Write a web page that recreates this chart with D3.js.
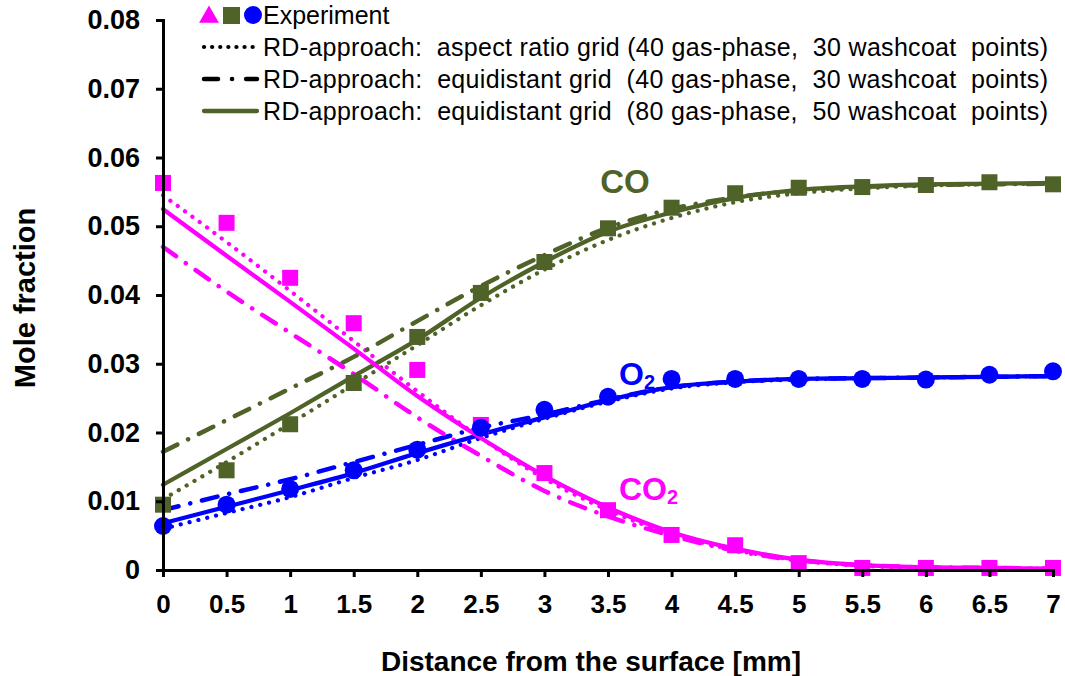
<!DOCTYPE html>
<html>
<head>
<meta charset="utf-8">
<script src="https://cdn.jsdelivr.net/npm/d3@7"></script>
<style>
  body { margin: 0; background: #fff; }
  svg { font-family: "Liberation Sans", Arial, sans-serif; }
</style>
</head>
<body>
<script>
// distance grid (mm) shared by experiment and model curves
var distance = [0, 0.5, 1, 1.5, 2, 2.5, 3, 3.5, 4, 4.5, 5, 5.5, 6, 6.5, 7];

// experiment
var expCO  = [0.0095, 0.0145, 0.0212, 0.0272, 0.0339, 0.0403, 0.0448, 0.0497, 0.0527, 0.0548, 0.0556, 0.0557, 0.0560, 0.0564, 0.0561];
var expO2  = [0.0064, 0.0095, 0.0118, 0.0145, 0.0175, 0.0207, 0.0233, 0.0252, 0.0278, 0.0278, 0.0278, 0.0278, 0.0277, 0.0284, 0.0289];
var expCO2 = [0.0563, 0.0505, 0.0425, 0.0359, 0.0291, 0.0211, 0.0141, 0.0087, 0.0051, 0.0036, 0.0010, 0.0003, 0.0003, 0.0003, 0.0003];

// RD-approach: aspect ratio grid (40/30) -> dotted
var aspCO  = [0.0103, 0.0157, 0.0213, 0.0270, 0.0327, 0.0385, 0.0437, 0.0480, 0.0512, 0.0535, 0.0548, 0.0555, 0.0559, 0.0561, 0.0562];
var aspO2  = [0.0060, 0.0083, 0.0106, 0.0134, 0.0160, 0.0192, 0.0220, 0.0245, 0.0264, 0.0273, 0.0277, 0.0279, 0.0280, 0.0281, 0.0282];
var aspCO2 = [0.0545, 0.0477, 0.0406, 0.0333, 0.0260, 0.0192, 0.0133, 0.0087, 0.0052, 0.0029, 0.0014, 0.0006, 0.0003, 0.0002, 0.0002];

// RD-approach: equidistant grid (40/30) -> dash-dot
var eq40CO  = [0.0172, 0.0218, 0.0264, 0.0310, 0.0362, 0.0413, 0.0458, 0.0498, 0.0525, 0.0542, 0.0552, 0.0557, 0.0560, 0.0561, 0.0562];
var eq40O2  = [0.0087, 0.0110, 0.0132, 0.0157, 0.0182, 0.0207, 0.0226, 0.0248, 0.0266, 0.0274, 0.0278, 0.0279, 0.0280, 0.0281, 0.0282];
var eq40CO2 = [0.0470, 0.0405, 0.0345, 0.0285, 0.0222, 0.0166, 0.0115, 0.0078, 0.0050, 0.0028, 0.0014, 0.0007, 0.0004, 0.0003, 0.0002];

// RD-approach: equidistant grid (80/50) -> solid
var eq80CO  = [0.0124, 0.0176, 0.0228, 0.0282, 0.0335, 0.0396, 0.0448, 0.0492, 0.0520, 0.0541, 0.0553, 0.0558, 0.0561, 0.0562, 0.0563];
var eq80O2  = [0.0068, 0.0092, 0.0116, 0.0141, 0.0170, 0.0197, 0.0222, 0.0247, 0.0266, 0.0274, 0.0278, 0.0279, 0.0280, 0.0281, 0.0282];
var eq80CO2 = [0.0525, 0.0457, 0.0390, 0.0322, 0.0253, 0.0192, 0.0137, 0.0091, 0.0055, 0.0031, 0.0015, 0.0007, 0.0004, 0.0003, 0.0002];

var xTicks = [0, 0.5, 1, 1.5, 2, 2.5, 3, 3.5, 4, 4.5, 5, 5.5, 6, 6.5, 7];
var yTicks = [0, 0.01, 0.02, 0.03, 0.04, 0.05, 0.06, 0.07, 0.08];

var legendLabels = [
  "RD-approach:  aspect ratio grid (40 gas-phase,  30 washcoat  points)",
  "RD-approach:  equidistant grid  (40 gas-phase,  30 washcoat  points)",
  "RD-approach:  equidistant grid  (80 gas-phase,  50 washcoat  points)"
];

var cCO = "#4f6228", cO2 = "#0000ff", cCO2 = "#ff00ff";

var W = 1065, H = 676;
var margin = {top: 20, right: 12, bottom: 106, left: 163},
    width = 1053 - margin.left,
    height = 570 - margin.top;

var svg = d3.select("body").append("svg")
    .attr("width", W)
    .attr("height", H);

var g = svg.append("g")
    .attr("transform", "translate(" + margin.left + "," + margin.top + ")");

var x = d3.scaleLinear().domain([0, 7]).range([0, width]);
var y = d3.scaleLinear().domain([0, 0.08]).range([height, 0]);

var line = function(vals) {
  return d3.line()
    .x(function(d, i) { return x(distance[i]); })
    .y(function(d) { return y(d); })
    .curve(d3.curveMonotoneX)(vals);
};

// styles of the three model variants
var dotted = {dash: "0.1 9", w: 4.2};
var dashdot = {dash: "16 12 0.1 12", w: 4.5};
var solid = {dash: null, w: 4.3};

function drawCurve(vals, color, st) {
  g.append("path")
    .attr("d", line(vals))
    .attr("fill", "none")
    .attr("stroke", color)
    .attr("stroke-width", st.w)
    .attr("stroke-linecap", "round")
    .attr("stroke-dasharray", st.dash);
}

// model curves
[[aspCO, cCO], [aspO2, cO2], [aspCO2, cCO2]].forEach(function(s) { drawCurve(s[0], s[1], dotted); });
[[eq40CO, cCO], [eq40O2, cO2], [eq40CO2, cCO2]].forEach(function(s) { drawCurve(s[0], s[1], dashdot); });
[[eq80CO, cCO], [eq80O2, cO2], [eq80CO2, cCO2]].forEach(function(s) { drawCurve(s[0], s[1], solid); });

// experiment markers
var sq = 16;
g.selectAll(".sqCO").data(expCO).enter().append("rect")
    .attr("x", function(d, i) { return x(distance[i]) - sq / 2; })
    .attr("y", function(d) { return y(d) - sq / 2; })
    .attr("width", sq).attr("height", sq)
    .attr("fill", cCO);
g.selectAll(".sqCO2").data(expCO2).enter().append("rect")
    .attr("x", function(d, i) { return x(distance[i]) - sq / 2; })
    .attr("y", function(d) { return y(d) - sq / 2; })
    .attr("width", sq).attr("height", sq)
    .attr("fill", cCO2);
g.selectAll(".cO2").data(expO2).enter().append("circle")
    .attr("cx", function(d, i) { return x(distance[i]); })
    .attr("cy", function(d) { return y(d); })
    .attr("r", 9)
    .attr("fill", cO2);

// axes
var yAxis = g.append("g")
    .call(d3.axisLeft(y).tickValues(yTicks).tickSize(7).tickFormat(function(d) { return d === 0 ? "0" : d3.format(".2f")(d); }));
var xAxis = g.append("g")
    .attr("transform", "translate(0," + height + ")")
    .call(d3.axisBottom(x).tickValues(xTicks).tickSize(7).tickFormat(d3.format("")));

[yAxis, xAxis].forEach(function(a) {
  a.select(".domain").attr("stroke", "#000").attr("stroke-width", 3);
  a.selectAll(".tick line").attr("stroke", "#000").attr("stroke-width", 3);
  a.selectAll("text")
    .attr("fill", "#000")
    .style("font-family", "'Liberation Sans', Arial, sans-serif")
    .style("font-weight", "bold");
});
yAxis.selectAll("text").style("font-size", "27px").attr("x", -23);
xAxis.selectAll("text").style("font-size", "26px").attr("y", 25);

// axis titles
svg.append("text")
    .attr("text-anchor", "middle")
    .attr("transform", "translate(591,671)")
    .style("font-size", "28px")
    .style("font-weight", "bold")
    .text("Distance from the surface [mm]");
svg.append("text")
    .attr("text-anchor", "middle")
    .attr("transform", "translate(35,298)rotate(-90)")
    .style("font-size", "29px")
    .style("font-weight", "bold")
    .text("Mole fraction");

// species labels
svg.append("text").attr("x", 625).attr("y", 193).attr("text-anchor", "middle")
    .attr("fill", cCO).style("font-size", "33px").style("font-weight", "bold").text("CO");
var o2 = svg.append("text").attr("x", 619).attr("y", 385)
    .attr("fill", cO2).style("font-size", "32px").style("font-weight", "bold");
o2.append("tspan").text("O");
o2.append("tspan").attr("dy", 4).style("font-size", "20px").text("2");
var co2 = svg.append("text").attr("x", 619).attr("y", 500)
    .attr("fill", cCO2).style("font-size", "32px").style("font-weight", "bold");
co2.append("tspan").text("CO");
co2.append("tspan").attr("dy", 4).style("font-size", "20px").text("2");

// legend
var lg = svg.append("g");
lg.append("path").attr("d", d3.symbol().type(d3.symbolTriangle).size(170)()).attr("transform", "translate(209,17)").attr("fill", cCO2);
lg.append("rect").attr("x", 223).attr("y", 7).attr("width", 17).attr("height", 17).attr("fill", cCO);
lg.append("circle").attr("cx", 253).attr("cy", 15).attr("r", 9).attr("fill", cO2);
lg.append("text").attr("x", 263).attr("y", 24).style("font-size", "25px").text("Experiment");

var legendStyles = [[dotted, "#000"], [dashdot, "#000"], [solid, cCO]];
legendLabels.forEach(function(t, i) {
  var ly = 47 + i * 32;
  var st = legendStyles[i][0];
  lg.append("line").attr("x1", 204).attr("x2", 257).attr("y1", ly).attr("y2", ly)
    .attr("stroke", legendStyles[i][1]).attr("stroke-width", st.w)
    .attr("stroke-linecap", "round")
    .attr("stroke-dasharray", i === 0 ? "0.1 8" : (i === 1 ? "14 14 0.1 14" : null));
  lg.append("text").attr("x", 263).attr("y", ly + 9).style("font-size", "25px")
    .attr("textLength", 785).attr("lengthAdjust", "spacing")
    .attr("xml:space", "preserve").text(t);
});
</script>
</body>
</html>
